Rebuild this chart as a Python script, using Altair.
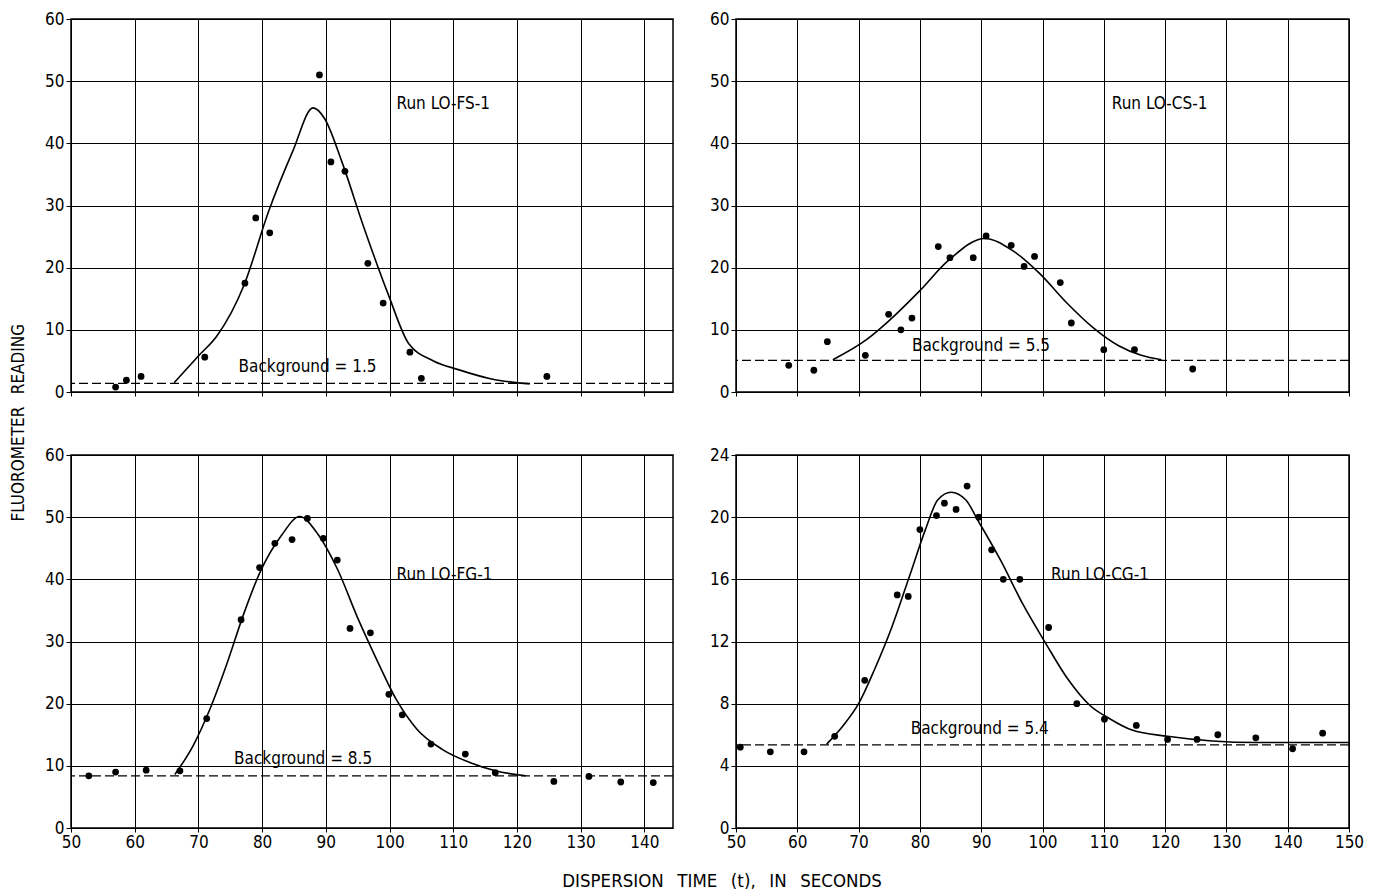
import altair as alt
import pandas as pd

FONT = "DejaVu Sans Condensed, Liberation Sans, sans-serif"

# ---- Run LO-FS-1 (top left)
TL_t = [57, 58.7, 61, 71, 77.3, 79, 81.2, 89, 90.8, 93, 96.6, 99, 103.2, 105, 124.7]
TL_r = [0.8, 1.9, 2.5, 5.6, 17.5, 28, 25.6, 51, 37, 35.5, 20.7, 14.3, 6.4, 2.2, 2.5]
TL_ct = [66.2, 70, 72.9, 77.2, 81, 84.8, 88, 89.8, 92.5, 95.8, 99.8, 103, 106.9, 110.8, 116, 122]
TL_cr = [1.5, 5.8, 9, 17.3, 29, 38.7, 45.7, 44, 37.1, 27, 15.7, 7.8, 5, 3.6, 2.1, 1.3]
TL_bg = 1.4

# ---- Run LO-CS-1 (top right)
TR_t = [58.6, 62.7, 64.9, 71.1, 74.9, 76.9, 78.7, 83, 84.9, 88.7, 90.8, 94.9, 97, 98.7, 102.9, 104.7, 110, 115, 124.5]
TR_r = [4.3, 3.5, 8.1, 5.9, 12.5, 10, 11.9, 23.4, 21.6, 21.6, 25.1, 23.6, 20.2, 21.8, 17.6, 11.1, 6.8, 6.8, 3.7]
TR_ct = [65.8, 71.4, 74.9, 79.8, 84.7, 90.6, 95.2, 99.6, 103.9, 108.2, 112.5, 116.1, 119.4]
TR_cr = [5.2, 8.5, 11.4, 16.1, 21.2, 24.7, 22.7, 19, 14.4, 10.4, 7.4, 5.9, 5.2]
TR_bg = 5.1

# ---- Run LO-FG-1 (bottom left)
BL_t = [52.8, 57, 61.8, 67.1, 71.3, 76.7, 79.6, 82, 84.7, 87.1, 89.6, 91.8, 93.8, 97, 99.9, 102, 106.5, 111.9, 116.6, 125.8, 131.3, 136.3, 141.4]
BL_r = [8.4, 9, 9.3, 9.2, 17.6, 33.5, 41.9, 45.8, 46.4, 49.8, 46.6, 43.1, 32.1, 31.4, 21.5, 18.2, 13.5, 11.9, 8.9, 7.5, 8.3, 7.4, 7.3]
BL_ct = [66.3, 69.2, 71.8, 74.5, 77.1, 79.7, 83, 85.9, 88.6, 91.8, 95, 97.8, 101.1, 104.3, 108.2, 112.7, 116.6, 121.4]
BL_cr = [8.6, 13.3, 19.1, 26.5, 34.4, 41.2, 47, 50.1, 47.5, 41.7, 33.8, 27.5, 20.6, 15.9, 12.7, 10.5, 9.2, 8.4]
BL_bg = 8.4

# ---- Run LO-CG-1 (bottom right)
BR_t = [50.7, 55.6, 61.1, 66.1, 71, 76.3, 78.1, 80, 82.7, 84, 85.9, 87.7, 89.6, 91.7, 93.6, 96.3, 101, 105.6, 110.1, 115.3, 120.4, 125.2, 128.6, 134.8, 140.8, 145.7]
BR_r = [5.2, 4.9, 4.9, 5.9, 9.5, 15, 14.9, 19.2, 20.1, 20.9, 20.5, 22, 20, 17.9, 16, 16, 12.9, 8, 7.0, 6.6, 5.7, 5.7, 6.0, 5.8, 5.1, 6.1]
BR_ct = [64.8, 67.5, 70, 72.6, 75.4, 78.3, 80.9, 82.9, 85.1, 87.5, 89.6, 93.2, 96.8, 100.5, 104.1, 107.7, 111.1, 114.6, 120.4, 127.7, 135, 150]
BR_cr = [5.4, 6.6, 8, 10.2, 12.9, 16.2, 19.2, 21.1, 21.6, 21.1, 19.7, 17.2, 14.4, 11.9, 9.6, 7.9, 7, 6.3, 5.9, 5.6, 5.5, 5.5]
BR_bg = 5.35

X_TITLE = "DISPERSION \u2002TIME \u2002(t), \u2002IN \u2002SECONDS"
Y_TITLE = "FLUOROMETER \u2002READING"

H = 373


def panel(t, r, ct, cr, bg, xmax, ymax, ystep, run_text, run_pos, bg_text, bg_pos, width, show_x):
    xs = alt.Scale(domain=[50, xmax], nice=False, zero=False)
    ys = alt.Scale(domain=[0, ymax], nice=False)
    xa = alt.Axis(values=list(range(50, int(xmax) + 1, 10)), grid=True, labels=show_x,
                  ticks=True, tickSize=4, domain=False, title=None,
                  gridColor="black", gridOpacity=1, gridWidth=1, tickColor="black",
                  labelFont=FONT, labelFontSize=17, labelColor="black", labelPadding=2,
                  labelFlush=False)
    ya = alt.Axis(values=list(range(0, ymax + 1, ystep)), grid=True, ticks=True,
                  tickSize=5, domain=False, title=None,
                  gridColor="black", gridOpacity=1, gridWidth=1, tickColor="black",
                  labelFont=FONT, labelFontSize=17, labelColor="black", labelPadding=2,
                  labelFlush=False)
    pts = alt.Chart(pd.DataFrame({"t": t, "r": r})).mark_circle(
        size=46, color="black", opacity=1).encode(
        x=alt.X("t:Q", scale=xs, axis=xa), y=alt.Y("r:Q", scale=ys, axis=ya))
    cur = alt.Chart(pd.DataFrame({"t": ct, "r": cr})).mark_line(
        color="black", strokeWidth=1.6, interpolate="monotone").encode(
        x=alt.X("t:Q", scale=xs), y=alt.Y("r:Q", scale=ys))
    rule = alt.Chart(pd.DataFrame({"b": [bg]})).mark_rule(
        color="black", strokeWidth=1.3, strokeDash=[9, 4]).encode(
        y=alt.Y("b:Q", scale=ys))
    lab = alt.Chart(pd.DataFrame({"t": [run_pos[0], bg_pos[0]], "r": [run_pos[1], bg_pos[1]],
                                  "s": [run_text, bg_text]})).mark_text(
        align="left", baseline="middle", font=FONT, fontSize=17, color="black").encode(
        x=alt.X("t:Q", scale=xs), y=alt.Y("r:Q", scale=ys), text="s:N")
    return alt.layer(rule, cur, pts, lab).properties(width=width, height=H)


tl = panel(TL_t, TL_r, TL_ct, TL_cr, TL_bg, 144.5, 60, 10, "Run LO-FS-1", (101.1, 46.3),
           "Background = 1.5", (76.3, 4.0), 602, False)
tr = panel(TR_t, TR_r, TR_ct, TR_cr, TR_bg, 150, 60, 10, "Run LO-CS-1", (111.3, 46.3),
           "Background = 5.5", (78.7, 7.4), 613, False)
bl = panel(BL_t, BL_r, BL_ct, BL_cr, BL_bg, 144.5, 60, 10, "Run LO-FG-1", (101.1, 40.7),
           "Background = 8.5", (75.6, 11.1), 602, True)
br = panel(BR_t, BR_r, BR_ct, BR_cr, BR_bg, 150, 24, 4, "Run LO-CG-1", (101.4, 16.3),
           "Background = 5.4", (78.5, 6.4), 613, True)

row1 = alt.hconcat(tl, tr, spacing=33)
row2 = alt.hconcat(bl, br, spacing=33)
inner = alt.vconcat(row1, row2, spacing=44).properties(
    title=alt.TitleParams(X_TITLE, orient="bottom", anchor="middle", font=FONT,
                          fontSize=18.5, fontWeight="normal", color="black", offset=21,
                          dx=18))
chart = alt.hconcat(inner).properties(
    title=alt.TitleParams(Y_TITLE, orient="left", anchor="middle", font=FONT,
                          fontSize=17, fontWeight="normal", color="black", offset=16,
                          dx=27),
    padding={"left": 9, "top": 9, "right": 10, "bottom": 5},
    background="white",
).configure_view(stroke="black", strokeWidth=1.5)

chart.save("out.html", embed_options={"renderer": "svg", "actions": False})
